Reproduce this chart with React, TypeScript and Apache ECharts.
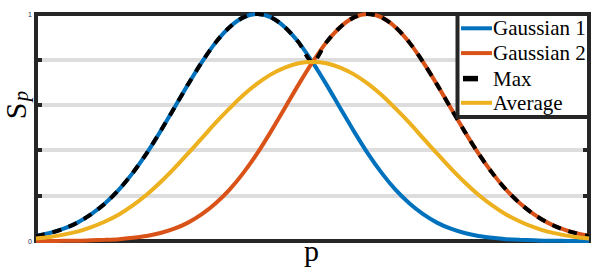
import React, { useEffect, useRef } from "react";
import * as echarts from "echarts";

// x positions (p), step 0.025
const P = [
  0, 0.025, 0.05, 0.075, 0.1, 0.125, 0.15, 0.175, 0.2, 0.225,
  0.25, 0.275, 0.3, 0.325, 0.35, 0.375, 0.4, 0.425, 0.45, 0.475,
  0.5, 0.525, 0.55, 0.575, 0.6, 0.625, 0.65, 0.675, 0.7, 0.725,
  0.75, 0.775, 0.8, 0.825, 0.85, 0.875, 0.9, 0.925, 0.95, 0.975, 1,
];

const GAUSS1 = [
  0.022, 0.035, 0.054, 0.081, 0.118, 0.166, 0.226, 0.3, 0.386, 0.483,
  0.586, 0.69, 0.788, 0.875, 0.942, 0.985, 1.0, 0.985, 0.942, 0.875,
  0.788, 0.69, 0.586, 0.483, 0.386, 0.3, 0.226, 0.166, 0.118, 0.081,
  0.054, 0.035, 0.022, 0.014, 0.008, 0.005, 0.003, 0.001, 0.001, 0.0, 0.0,
];

const GAUSS2 = [
  0.0, 0.0, 0.001, 0.001, 0.003, 0.005, 0.008, 0.014, 0.022, 0.035,
  0.054, 0.081, 0.118, 0.166, 0.226, 0.3, 0.386, 0.483, 0.586, 0.69,
  0.788, 0.875, 0.942, 0.985, 1.0, 0.985, 0.942, 0.875, 0.788, 0.69,
  0.586, 0.483, 0.386, 0.3, 0.226, 0.166, 0.118, 0.081, 0.054, 0.035, 0.022,
];

const MAXV = [
  0.022, 0.035, 0.054, 0.081, 0.118, 0.166, 0.226, 0.3, 0.386, 0.483,
  0.586, 0.69, 0.788, 0.875, 0.942, 0.985, 1.0, 0.985, 0.942, 0.875,
  0.788, 0.875, 0.942, 0.985, 1.0, 0.985, 0.942, 0.875, 0.788, 0.69,
  0.586, 0.483, 0.386, 0.3, 0.226, 0.166, 0.118, 0.081, 0.054, 0.035, 0.022,
];

const AVERAGE = [
  0.011, 0.018, 0.028, 0.041, 0.061, 0.086, 0.117, 0.157, 0.204, 0.259,
  0.32, 0.386, 0.453, 0.521, 0.584, 0.643, 0.693, 0.734, 0.764, 0.783,
  0.788, 0.783, 0.764, 0.734, 0.693, 0.643, 0.584, 0.521, 0.453, 0.386,
  0.32, 0.259, 0.204, 0.157, 0.117, 0.086, 0.061, 0.041, 0.028, 0.018, 0.011,
];

const SERIES_NAMES = ["Gaussian 1", "Gaussian 2", "Max", "Average"];
const Y_TICK_LABELS: Record<string, string> = { "0": "0", "1": "1" };

const C_BLUE = "#0072BD";
const C_ORANGE = "#D95319";
const C_YELLOW = "#EDB120";
const C_BLACK = "#000000";
const AXIS = "#262626";
const SERIF = "'Liberation Serif', 'Times New Roman', serif";

const pairs = (ys: number[]) => P.map((x, i) => [x, ys[i]]);

export default function App() {
  const ref = useRef<HTMLDivElement>(null);

  useEffect(() => {
    if (!ref.current) return;
    const chart = echarts.init(ref.current, null, { renderer: "svg" });

    const baseLine = (name: string, data: number[], color: string, extra: any = {}) => ({
      name,
      type: "line",
      data: pairs(data),
      showSymbol: false,
      smooth: 0.3,
      lineStyle: { color, width: 4, ...extra },
      itemStyle: { color },
      silent: true,
    });

    const rowY = [28.3, 53.1, 78.6, 102.8];
    const legendColors = [C_BLUE, C_ORANGE, C_BLACK, C_YELLOW];
    const Z = 100;
    const legendEls: any[] = [
      {
        type: "rect",
        z: Z,
        shape: { x: 457.5, y: 14, width: 131.5, height: 103 },
        style: { fill: "#fff", stroke: AXIS, lineWidth: 4 },
      },
    ];
    SERIES_NAMES.forEach((n, i) => {
      if (n === "Max") {
        legendEls.push({
          type: "line",
          z: Z + 1,
          shape: { x1: 463, y1: rowY[i], x2: 478, y2: rowY[i] },
          style: { stroke: C_BLACK, lineWidth: 5.5 },
        });
      } else {
        legendEls.push({
          type: "line",
          z: Z + 1,
          shape: { x1: 461, y1: rowY[i], x2: 492, y2: rowY[i] },
          style: { stroke: legendColors[i], lineWidth: 4 },
        });
      }
      legendEls.push({
        type: "text",
        z: Z + 1,
        x: 493,
        y: rowY[i],
        style: {
          text: n,
          fontFamily: SERIF,
          fontSize: 21,
          fill: "#000",
          align: "left",
          verticalAlign: "middle",
        },
      });
    });

    const option: any = {
      animation: false,
      backgroundColor: "#fff",
      grid: {
        left: 36,
        right: 13,
        top: 14,
        bottom: 29,
        show: true,
        z: 1,
        backgroundColor: "transparent",
        borderColor: AXIS,
        borderWidth: 4,
      },
      xAxis: {
        type: "value",
        min: 0,
        max: 1,
        axisLine: { show: false },
        axisTick: { show: false },
        axisLabel: { show: false },
        splitLine: { show: false },
      },
      yAxis: [
        {
          type: "value",
          min: 0,
          max: 1,
          interval: 0.2,
          axisLine: { show: false },
          axisTick: { show: true, inside: true, length: 6, lineStyle: { color: AXIS, width: 4 } },
          axisLabel: {
            formatter: (v: number) => Y_TICK_LABELS[String(v)] ?? "",
            fontSize: 7,
            color: "#1a2a50",
            margin: 4,
            fontFamily: "'Liberation Sans', Arial, sans-serif",
          },
          splitLine: {
            show: true,
            lineStyle: {
              color: ["rgba(0,0,0,0)", "#dddddd", "#dddddd", "#dddddd", "#dddddd", "rgba(0,0,0,0)"],
              width: 4,
            },
          },
        },
        {
          type: "value",
          position: "right",
          min: 0,
          max: 1,
          interval: 0.2,
          axisLine: { show: false },
          axisTick: { show: true, inside: true, length: 6, lineStyle: { color: AXIS, width: 4 } },
          axisLabel: { show: false },
          splitLine: { show: false },
        },
      ],
      series: [
        baseLine("Gaussian 1", GAUSS1, C_BLUE),
        baseLine("Gaussian 2", GAUSS2, C_ORANGE),
        baseLine("Max", MAXV, C_BLACK, { type: [9, 8] }),
        baseLine("Average", AVERAGE, C_YELLOW),
      ],
      graphic: [
        ...legendEls,
        {
          type: "text",
          z: Z,
          x: 15,
          y: 111,
          rotation: Math.PI / 2,
          style: {
            text: "S",
            fontFamily: SERIF,
            fontSize: 30,
            fill: "#000",
            align: "center",
            verticalAlign: "middle",
          },
        },
        {
          type: "text",
          z: Z,
          x: 21,
          y: 96,
          rotation: Math.PI / 2,
          style: {
            text: "p",
            fontFamily: SERIF,
            fontStyle: "italic",
            fontSize: 21,
            fill: "#000",
            align: "center",
            verticalAlign: "middle",
          },
        },
        {
          type: "text",
          z: Z,
          x: 311.5,
          y: 250.5,
          style: {
            text: "p",
            fontFamily: SERIF,
            fontSize: 30,
            fill: "#000",
            align: "center",
            verticalAlign: "middle",
          },
        },
      ],
    };

    chart.setOption(option);
    return () => chart.dispose();
  }, []);

  return (
    <div
      ref={ref}
      style={{ position: "fixed", left: 0, top: 0, width: 602, height: 270, background: "#fff" }}
    />
  );
}
